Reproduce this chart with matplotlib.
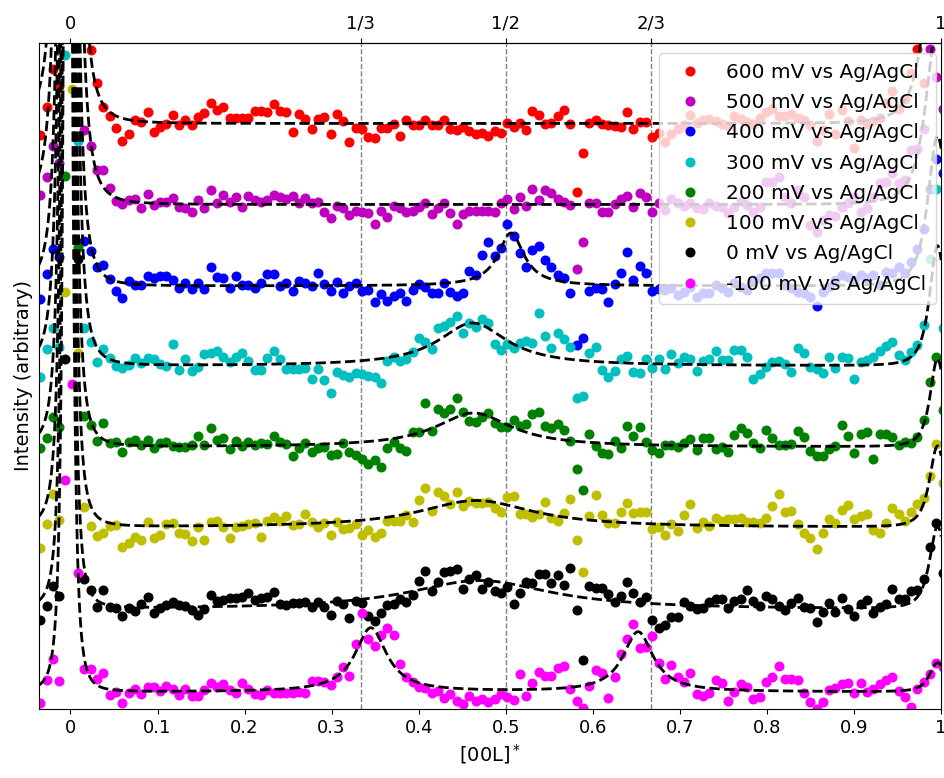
import numpy as np
import matplotlib
matplotlib.use("Agg")
import matplotlib.pyplot as plt

# ---------------- data ----------------
# scan positions along [00L]* (uniform scan, 144 points)
L = np.round(-0.03475 + 0.00725 * np.arange(144), 5)

labels = ["600 mV vs Ag/AgCl", "500 mV vs Ag/AgCl", "400 mV vs Ag/AgCl",
          "300 mV vs Ag/AgCl", "200 mV vs Ag/AgCl", "100 mV vs Ag/AgCl",
          "0 mV vs Ag/AgCl", "-100 mV vs Ag/AgCl"]
colors = ["r", "m", "b", "c", "g", "y", "k", "magenta"]

# measured (offset) intensities, arbitrary units
I_600 = [57.4, 60.2, 64.0, 62.3, 75, 90, 80, 70, 65.9, 62.6, 60.2, 59.3, 58.1, 56.8, 57.5, 58.9, 58.7, 59.7,
         57.7, 58.2, 58.5, 59.4, 58.4, 58.9, 58.4, 59.2, 59.6, 60.6, 59.9, 60.2, 59.1, 59.1, 59.1, 59.1,
         59.8, 59.8, 59.7, 60.5, 59.8, 59.7, 57.7, 59.5, 59.0, 58.0, 59.0, 59.2, 57.5, 59.5, 58.8, 56.7,
         58.1, 58.0, 57.2, 57.1, 58.1, 58.1, 58.5, 57.3, 58.9, 58.4, 58.4, 58.9, 58.4, 58.4, 58.9, 58.0,
         57.9, 58.2, 57.8, 57.5, 57.6, 57.3, 57.8, 57.6, 58.6, 58.2, 58.6, 57.9, 59.8, 59.4, 58.5, 58.6,
         59.3, 59.9, 58.5, 51.7, 55.6, 58.6, 58.9, 58.5, 58.4, 58.3, 58.2, 59.7, 58.0, 58.7, 58.7, 57.2,
         57.6, 56.7, 57.5, 58.0, 58.4, 59.4, 58.6, 58.9, 59.0, 58.8, 58.5, 58.3, 59.3, 59.0, 58.7, 58.5,
         59.1, 59.7, 60.0, 59.3, 59.3, 59.5, 59.1, 58.9, 58.4, 56.8, 57.9, 59.5, 57.5, 59.9, 58.8, 56.1,
         58.9, 58.5, 58.8, 59.1, 60.6, 61.8, 60.0, 61.0, 63.6, 66.0, 62.6, 75, 85, 75]
I_500 = [51.4, 53.2, 56.3, 54.6, 70, 85, 68, 57.9, 56.3, 53.9, 53.9, 52.1, 50.8, 50.5, 50.9, 51.0, 50.1, 51.5,
         50.4, 50.7, 50.7, 51.1, 50.2, 50.1, 49.7, 50.9, 50.1, 51.9, 50.6, 51.4, 50.7, 51.2, 50.2, 51.3,
         50.9, 50.7, 50.9, 51.4, 51.2, 51.0, 51.3, 50.6, 51.1, 50.6, 50.7, 49.7, 49.1, 50.3, 50.1, 49.4,
         49.8, 49.7, 49.6, 48.5, 49.8, 49.2, 50.3, 50.1, 49.7, 49.8, 50.2, 50.6, 49.5, 50.1, 50.6, 49.6,
         48.5, 49.5, 49.8, 49.8, 49.8, 49.8, 49.7, 50.6, 51.0, 50.0, 51.2, 50.3, 52.0, 50.9, 51.9, 51.6,
         51.0, 50.7, 50.4, 44.0, 46.7, 50.6, 50.6, 49.7, 49.7, 50.5, 51.0, 51.3, 50.2, 51.6, 51.2, 49.7,
         50.6, 49.9, 51.0, 50.6, 50.3, 50.6, 50.1, 50.0, 50.6, 50.3, 50.2, 49.6, 50.2, 50.8, 50.4, 49.7,
         50.2, 52.7, 52.7, 53.2, 51.2, 50.6, 51.9, 51.2, 48.4, 47.7, 48.9, 49.4, 49.3, 50.2, 50.6, 51.2,
         49.7, 50.1, 51.2, 52.6, 52.7, 53.6, 52.6, 52.9, 55.9, 56.0, 58.0, 66.0, 63.2, 60.0]
I_400 = [41.0, 43.5, 46.0, 45.2, 70, 80, 68, 46.8, 45.8, 44.2, 44.4, 43.0, 41.8, 41.1, 42.8, 42.4, 42.4, 43.3,
         43.1, 43.3, 43.3, 42.9, 42.1, 42.6, 42.0, 42.6, 42.0, 44.2, 43.2, 43.1, 42.1, 43.3, 42.4, 42.4,
         42.1, 42.6, 43.5, 43.5, 42.3, 42.6, 41.8, 42.8, 42.6, 42.3, 43.6, 42.5, 41.8, 42.7, 41.6, 42.3,
         42.6, 41.8, 41.9, 40.7, 41.5, 40.8, 41.3, 41.6, 40.8, 41.9, 42.5, 42.2, 41.6, 41.6, 42.6, 41.7,
         41.3, 41.6, 43.8, 43.4, 45.4, 46.7, 45.3, 46.1, 48.5, 47.3, 45.6, 44.2, 45.9, 46.3, 44.9, 44.2,
         43.4, 43.1, 41.6, 36.4, 37.1, 41.8, 42.1, 42.0, 40.7, 42.5, 43.6, 45.7, 42.9, 44.3, 43.6, 41.8,
         42.0, 41.9, 42.1, 41.4, 41.7, 42.2, 41.2, 41.6, 41.6, 42.4, 42.1, 41.7, 42.6, 42.2, 41.9, 42.9,
         43.1, 43.6, 43.6, 43.6, 42.4, 42.1, 41.7, 41.6, 41.2, 40.3, 41.7, 42.2, 42.9, 43.4, 43.2, 42.9,
         43.4, 43.1, 43.4, 42.4, 43.7, 43.6, 44.2, 43.6, 44.7, 46.0, 48.0, 52.0, 55.0, 53.6]
I_300 = [33.2, 36.0, 38.1, 36.2, 65.4, 80, 56.8, 38.1, 36.7, 34.7, 36.0, 35.1, 34.3, 34.1, 34.4, 35.1, 34.6, 35.1,
         35.0, 34.5, 34.3, 36.5, 33.9, 35.0, 33.8, 34.2, 35.5, 35.6, 35.8, 35.2, 34.7, 35.2, 35.6, 34.8,
         33.9, 33.9, 35.1, 35.8, 35.0, 34.0, 34.0, 34.0, 34.1, 33.0, 34.0, 32.9, 31.6, 33.7, 33.4, 33.2,
         33.6, 33.5, 33.3, 33.2, 32.6, 34.8, 35.2, 34.8, 35.0, 35.7, 37.1, 36.7, 36.0, 38.1, 38.3, 38.7,
         39.3, 37.6, 38.6, 38.2, 39.0, 38.6, 36.5, 35.9, 36.5, 36.1, 36.6, 36.8, 36.6, 39.6, 37.3, 36.1,
         37.6, 37.0, 36.2, 31.1, 31.3, 35.6, 36.2, 33.9, 33.2, 33.8, 35.0, 35.3, 33.7, 33.6, 35.0, 34.1,
         35.0, 34.0, 35.5, 34.6, 35.2, 35.0, 33.8, 34.8, 35.0, 35.8, 34.9, 34.9, 35.9, 35.9, 35.2, 33.0,
         33.5, 34.2, 34.7, 34.8, 34.5, 33.7, 36.1, 35.6, 34.2, 34.0, 33.6, 35.2, 34.1, 35.2, 35.1, 33.0,
         34.7, 34.9, 35.2, 35.8, 36.3, 36.7, 35.4, 34.9, 35.7, 36.4, 38.4, 45.0, 52.0, 38.1]
I_200 = [26.1, 27.1, 29.2, 28.2, 53.3, 75, 46.2, 29.3, 28.4, 26.8, 28.6, 26.6, 26.7, 25.7, 26.7, 26.9, 26.4, 26.9,
         26.1, 26.6, 26.7, 26.3, 26.2, 26.2, 26.4, 27.3, 26.4, 28.1, 26.9, 27.1, 26.0, 26.8, 26.3, 26.7,
         26.4, 26.6, 26.5, 27.3, 26.7, 26.5, 25.3, 26.1, 26.6, 25.7, 26.1, 26.2, 25.4, 25.5, 26.6, 25.7,
         25.4, 25.0, 24.5, 24.9, 24.2, 26.1, 26.7, 26.1, 25.8, 27.7, 27.7, 30.6, 27.8, 30.0, 29.6, 30.0,
         31.1, 29.7, 28.8, 28.7, 29.2, 29.6, 28.6, 28.2, 28.2, 28.9, 28.3, 28.5, 29.5, 29.7, 28.3, 28.1,
         28.5, 27.9, 26.8, 24.0, 21.9, 27.5, 26.3, 25.6, 25.5, 26.8, 26.1, 28.3, 27.3, 28.2, 26.7, 25.9,
         25.6, 26.4, 26.4, 26.2, 26.6, 27.0, 25.9, 27.1, 27.1, 26.0, 26.2, 25.7, 27.4, 28.1, 27.6, 26.6,
         26.1, 27.9, 27.1, 26.4, 26.4, 26.5, 27.8, 27.2, 25.8, 25.3, 25.3, 26.0, 26.3, 28.4, 27.3, 25.6,
         27.5, 27.7, 25.0, 27.5, 27.5, 27.2, 26.4, 26.7, 26.6, 27.2, 28.9, 32.7, 35.2, 29.9]
I_100 = [16.1, 18.5, 21.5, 18.9, 41.7, 62.0, 35.6, 20.2, 18.3, 17.3, 17.6, 18.3, 18.4, 16.2, 16.6, 17.2, 16.9, 18.7,
         17.1, 17.4, 18.5, 18.6, 17.6, 17.5, 16.8, 18.2, 16.9, 18.7, 18.8, 18.2, 17.1, 18.2, 18.3, 18.5,
         18.6, 17.2, 18.8, 19.2, 18.8, 19.3, 18.4, 18.5, 19.5, 18.7, 18.2, 18.6, 17.4, 18.7, 18.0, 18.1,
         18.5, 17.4, 17.9, 17.2, 17.6, 18.8, 18.8, 18.8, 19.4, 18.7, 20.9, 22.1, 19.8, 21.7, 21.3, 20.5,
         21.7, 20.3, 20.8, 20.6, 20.6, 20.7, 20.1, 19.7, 21.2, 21.3, 19.5, 19.5, 19.2, 19.5, 20.7, 19.1,
         18.8, 19.6, 21.0, 16.9, 13.7, 19.3, 21.4, 19.4, 18.6, 18.6, 19.7, 20.6, 19.6, 19.7, 19.7, 18.0,
         18.2, 17.4, 18.5, 17.8, 19.4, 20.5, 18.1, 18.7, 18.3, 19.1, 18.8, 19.0, 19.0, 19.1, 18.7, 18.7,
         18.6, 19.1, 20.3, 21.5, 19.7, 19.8, 18.5, 17.6, 17.1, 16.0, 17.6, 19.0, 18.6, 19.9, 20.4, 19.0,
         19.3, 19.5, 17.9, 17.6, 18.6, 20.1, 19.5, 18.8, 19.7, 20.5, 21.1, 23.3, 26.5, 22.6]
I_0 = [8.9, 10.3, 12.3, 11.3, 35.0, 70, 45, 13.0, 11.9, 10.2, 11.9, 10.2, 10.1, 9.3, 10.1, 9.8, 10.5, 11.2,
       9.6, 10.1, 10.4, 10.7, 10.4, 10.3, 9.9, 9.4, 10.0, 11.4, 10.8, 10.9, 11.1, 11.1, 11.2, 11.6,
       10.9, 11.1, 11.2, 11.7, 10.5, 10.4, 10.6, 10.6, 10.7, 10.2, 10.7, 10.2, 9.4, 10.8, 10.5, 9.1,
       10.8, 10.6, 9.3, 8.8, 9.6, 10.4, 10.5, 11.0, 10.7, 11.4, 12.8, 13.8, 11.8, 12.7, 13.7, 13.8,
       14.0, 12.0, 13.0, 13.4, 12.0, 12.7, 11.8, 11.6, 12.2, 10.5, 11.6, 12.7, 12.6, 13.5, 13.5, 12.6,
       13.4, 12.4, 14.1, 9.9, 4.9, 12.3, 12.1, 12.1, 11.5, 10.7, 11.3, 12.7, 11.6, 10.7, 11.2, 8.9,
       8.1, 8.4, 9.2, 9.2, 10.7, 10.3, 10.0, 10.1, 10.7, 11.0, 11.0, 10.1, 10.8, 11.0, 11.9, 10.8,
       10.3, 11.3, 11.0, 10.3, 9.9, 10.6, 11.1, 10.2, 10.1, 8.7, 9.7, 10.6, 9.7, 11.1, 10.0, 9.3,
       10.5, 10.9, 9.6, 10.2, 10.5, 12.0, 11.0, 11.0, 11.8, 11.9, 13.0, 16.2, 18.6, 13.6]
I_m100 = [0.6, 2.9, 5.0, 2.8, 22.9, 32.5, 13.6, 4.0, 4.0, 3.0, 3.6, 1.4, 1.7, 0.6, 1.6, 2.0, 1.5, 2.2,
          2.2, 1.8, 2.3, 2.0, 1.4, 2.0, 1.3, 1.3, 1.9, 2.6, 2.2, 2.5, 1.9, 1.6, 2.6, 2.0,
          1.5, 1.4, 1.9, 1.6, 1.6, 1.6, 1.6, 1.7, 1.6, 2.8, 2.8, 2.7, 2.4, 3.2, 4.2, 3.3,
          6.5, 9.6, 7.0, 6.3, 7.4, 8.1, 7.4, 4.5, 3.2, 2.7, 2.2, 2.1, 1.6, 1.8, 1.1, 1.5,
          0.8, 0.5, 1.3, 0.8, 1.0, 0.7, 1.0, 1.5, 1.2, 0.9, 3.5, 1.3, 2.6, 3.7, 3.3, 3.3,
          4.1, 4.3, 2.0, 0.8, 0.1, 2.3, 3.9, 3.6, 1.1, 3.2, 5.5, 7.0, 8.5, 6.1, 6.2, 7.3,
          4.6, 3.0, 4.4, 3.2, 2.7, 3.6, 1.5, 1.3, 1.6, 2.9, 2.6, 0.8, 1.7, 2.5, 2.2, 1.0,
          1.2, 2.7, 3.2, 4.3, 3.0, 3.0, 2.9, 1.6, 0.7, 0.0, 0.7, 1.9, 2.1, 2.5, 2.6, 1.6,
          2.6, 1.7, 2.0, 2.5, 2.9, 3.2, 1.8, 1.2, 0.2, 2.0, 2.7, 3.5, 4.6, 4.2]

series = [I_600, I_500, I_400, I_300, I_200, I_100, I_0, I_m100]

# fit-model parameters
fit_base = [58.55, 50.45, 42.3, 34.3, 26.2, 18.15, 9.95, 1.7]
bragg0_pos = -0.003
bragg0_amp = [1040, 960, 640, 560, 400, 320, 240, 200]
bragg0_wid = [0.005] * 8
bragg1_pos = 0.996
bragg1_amp = [22, 18, 15, 12, 8.8, 8.1, 8.2, 2.9]
bragg1_wid = [0.02, 0.02, 0.017, 0.014, 0.013, 0.014, 0.014, 0.014]
# extra superstructure peaks: (position, amplitude, half width) per series
extra_peaks = [[], [], [(0.506, 5.3, 0.018)], [(0.462, 4.3, 0.048)],
               [(0.463, 3.4, 0.053)], [(0.466, 2.7, 0.08)], [(0.47, 2.9, 0.1)],
               [(0.345, 6.4, 0.022), (0.652, 6.0, 0.021)]]

xticks = [0, 0.1, 0.2, 0.3, 0.4, 0.5, 0.6, 0.7, 0.8, 0.9, 1.0]
xticklabels = ["0", "0.1", "0.2", "0.3", "0.4", "0.5", "0.6", "0.7", "0.8", "0.9", "1"]
top_ticks = [0, 1 / 3, 1 / 2, 2 / 3, 1]
top_labels = ["0", "1/3", "1/2", "2/3", "1"]


def pearson(x, c, a, g, p):
    return a / (1 + ((x - c) / g) ** 2) ** p


# ---------------- plot ----------------
fig = plt.figure(figsize=(9.44, 7.78), dpi=100)
ax = fig.add_axes([38.6 / 944, 1 - 709 / 778, (941 - 38.6) / 944, (709 - 42.7) / 778])

for xv in top_ticks[1:4]:
    ax.axvline(xv, color="gray", ls="--", lw=1, zorder=0.5)

xf = np.linspace(-0.04, 1.01, 3000)
for i, vals in enumerate(series):
    ax.plot(L, vals, "o", color=colors[i], ms=6.2, ls="none", label=labels[i], zorder=2)
    yf = (fit_base[i]
          + pearson(xf, bragg0_pos, bragg0_amp[i], bragg0_wid[i], 1.5)
          + pearson(xf, bragg1_pos, bragg1_amp[i], bragg1_wid[i], 1.5))
    for (c, a, g) in extra_peaks[i]:
        yf = yf + pearson(xf, c, a, g, 1.0)
    ax.plot(xf, yf, "k--", lw=2, zorder=3)

ax.set_xlim(-0.0366, 1.0)
ax.set_ylim(0, 66.63)
ax.set_yticks([])
ax.set_xticks(xticks)
ax.set_xticklabels(xticklabels, fontsize=13)
ax.set_xlabel(r"[00L]$^*$", fontsize=14)
ax.set_ylabel("Intensity (arbitrary)", fontsize=14)

top = ax.secondary_xaxis("top")
top.set_xticks(top_ticks)
top.set_xticklabels(top_labels, fontsize=13)

ax.legend(loc="upper right", fontsize=14.5, numpoints=1, labelspacing=0.56,
          borderpad=0.5, borderaxespad=0,
          bbox_to_anchor=(1 - 5 / 902.4, 1 - 10 / 666.3))

fig.savefig("out.png", dpi=100)
